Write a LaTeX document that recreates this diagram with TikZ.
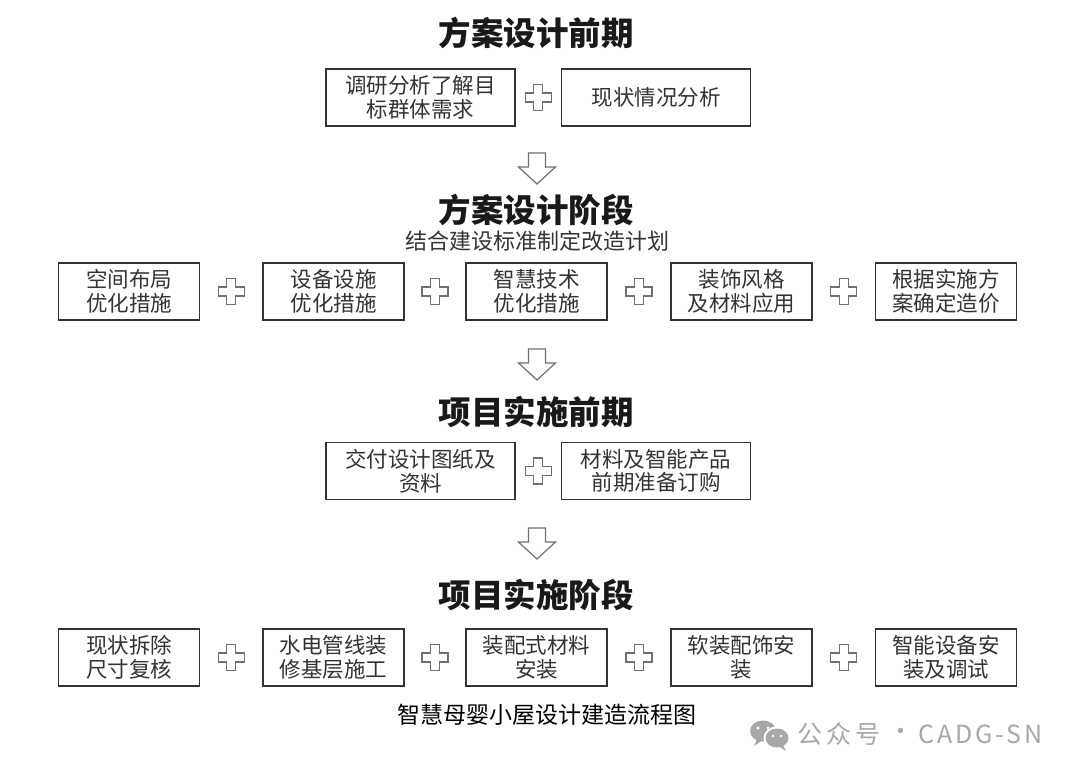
\documentclass[tikz,border=0pt]{standalone}
\usepackage{fontspec}
\setmainfont{Noto Sans CJK SC}
\usetikzlibrary{calc}
\definecolor{ink}{HTML}{333333}
\definecolor{symb}{HTML}{707070}
\definecolor{wm}{HTML}{A8A8A8}
\tikzset{
  stepbox/.style={draw=ink, line width=1.4pt, minimum height=57pt, align=center,
    text=ink, font=\fontsize{21.5}{23.5}\selectfont, inner sep=0pt},
  widebox/.style={stepbox, minimum width=189pt},
  narrowbox/.style={stepbox, minimum width=141pt},
  titletext/.style={font=\fontsize{32.5}{36}\selectfont\bfseries, text=black!90},
  subtext/.style={font=\fontsize{22}{24}\selectfont, text=ink},
  pics/plussign/.style={code={
    \draw[symb, line width=1.3pt, line join=miter]
      (-4.5,-13) -- (4.5,-13) -- (4.5,-4.5) -- (13,-4.5) -- (13,4.5) -- (4.5,4.5)
      -- (4.5,13) -- (-4.5,13) -- (-4.5,4.5) -- (-13,4.5) -- (-13,-4.5) -- (-4.5,-4.5) -- cycle;}},
  pics/downarrow/.style={code={
    \draw[symb, line width=1.2pt, line join=miter]
      (-8.5,-15) -- (8.5,-15) -- (8.5,-1) -- (18.5,-1) -- (0,16) -- (-18.5,-1) -- (-8.5,-1) -- cycle;}}
}
\begin{document}
\begin{tikzpicture}[x=1pt,y=-1pt]
\useasboundingbox (0,0) rectangle (1080,777);
\fill[white] (0,0) rectangle (1080,777);

% Stage 1
\node[titletext] (t1) at (536,33) {方案设计前期};
\node[widebox] (a1) at (420.5,97.5) {调研分析了解目\\标群体需求};
\node[widebox] (a2) at (656,97.5) {现状情况分析};
\pic at ($(a1.east)!0.5!(a2.west)$) {plussign};
\coordinate (d1) at (537,168);
\pic at (d1) {downarrow};

% Stage 2
\node[titletext] (t2) at (536,210) {方案设计阶段};
\node[subtext] (s2) at (537,241) {结合建设标准制定改造计划};
\node[narrowbox] (b1) at (129,291.5) {空间布局\\优化措施};
\node[narrowbox] (b2) at (333.5,291.5) {设备设施\\优化措施};
\node[narrowbox] (b3) at (536.5,291.5) {智慧技术\\优化措施};
\node[narrowbox] (b4) at (741.5,291.5) {装饰风格\\及材料应用};
\node[narrowbox] (b5) at (946,291.5) {根据实施方\\案确定造价};
\foreach \p/\q in {b1/b2,b2/b3,b3/b4,b4/b5}
  \pic at ($(\p.east)!0.5!(\q.west)$) {plussign};
\coordinate (d2) at (537,364);
\pic at (d2) {downarrow};

% Stage 3
\node[titletext] (t3) at (536,412) {项目实施前期};
\node[widebox] (c1) at (420.5,471) {交付设计图纸及\\资料};
\node[widebox] (c2) at (656,471) {材料及智能产品\\前期准备订购};
\pic at ($(c1.east)!0.5!(c2.west)$) {plussign};
\coordinate (d3) at (537,543);
\pic at (d3) {downarrow};

% Stage 4
\node[titletext] (t4) at (536,595) {项目实施阶段};
\node[narrowbox] (e1) at (129,657.5) {现状拆除\\尺寸复核};
\node[narrowbox] (e2) at (333.5,657.5) {水电管线装\\修基层施工};
\node[narrowbox] (e3) at (536.5,657.5) {装配式材料\\安装};
\node[narrowbox] (e4) at (741.5,657.5) {软装配饰安\\装};
\node[narrowbox] (e5) at (946,657.5) {智能设备安\\装及调试};
\foreach \p/\q in {e1/e2,e2/e3,e3/e4,e4/e5}
  \pic at ($(\p.east)!0.5!(\q.west)$) {plussign};

% Caption
\node[font=\fontsize{23}{26}\selectfont, text=black] (cap) at (547,715) {智慧母婴小屋设计建造流程图};

% Watermark
\fill[wm] (763,731) ellipse [x radius=13, y radius=10.5];
\fill[wm] (757,739) -- (754,746) -- (763,740) -- cycle;
\fill[white] (777,738) ellipse [x radius=13.5, y radius=11.5];
\fill[wm] (777,738) ellipse [x radius=11.5, y radius=9.5];
\fill[wm] (783,745) -- (786,751) -- (778,746) -- cycle;
\fill[white] (758,728) circle (1.6) (768,728) circle (1.6);
\fill[white] (773,736) circle (1.4) (781,736) circle (1.4);
\node[font=\fontsize{25}{27}\selectfont\addfontfeature{LetterSpace=17}, text=wm, anchor=west, inner sep=0pt] (wm1) at (797,734) {公众号};
\node[font=\fontsize{25}{27}\selectfont, text=wm, inner sep=0pt] (wm2) at (901,734) {·};
\node[font=\fontsize{25}{27}\selectfont\addfontfeature{LetterSpace=12}, text=wm, anchor=west, inner sep=0pt] (wm3) at (918,734) {CADG-SN};
\end{tikzpicture}
\end{document}
